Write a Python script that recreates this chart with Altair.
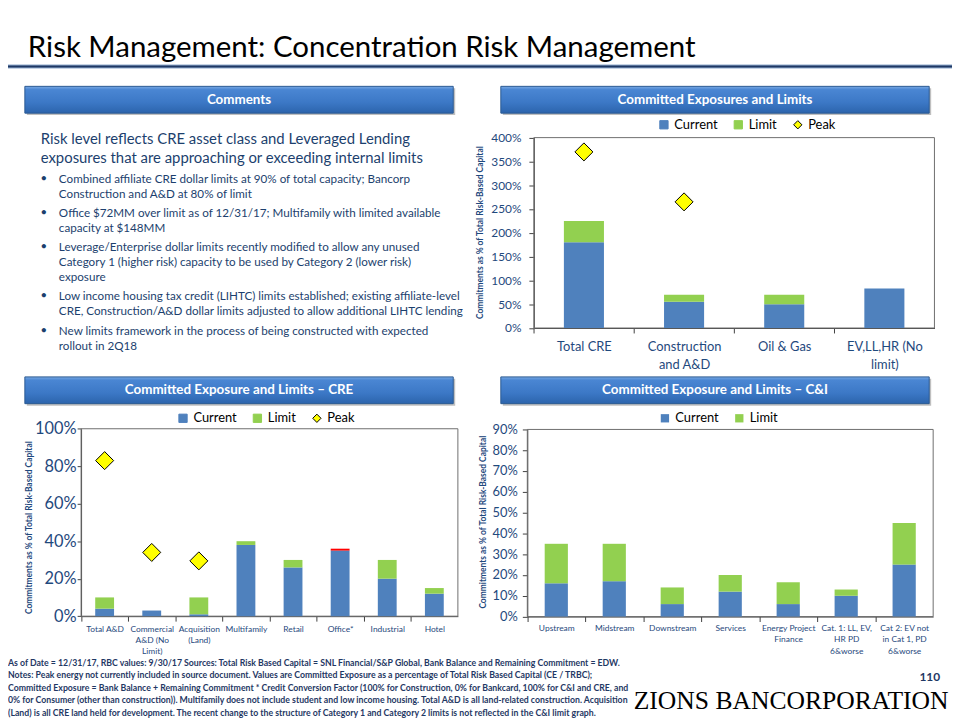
import altair as alt
import pandas as pd

# ---------------- data ----------------
title_text = "Risk Management: Concentration Risk Management"
header_texts = ["Comments", "Committed Exposures and Limits",
                "Committed Exposure and Limits \u2013 CRE", "Committed Exposure and Limits \u2013 C&I"]
heading_lines = ["Risk level reflects CRE asset class and Leveraged Lending",
                 "exposures that are approaching or exceeding internal limits"]
bullets = [
    ["Combined affiliate CRE dollar limits at 90% of total capacity; Bancorp",
     "Construction and A&D at 80% of limit"],
    ["Office $72MM over limit as of 12/31/17; Multifamily with limited available",
     "capacity at $148MM"],
    ["Leverage/Enterprise dollar limits recently modified to allow any unused",
     "Category 1 (higher risk) capacity to be used by Category 2 (lower risk)",
     "exposure"],
    ["Low income housing tax credit (LIHTC) limits established; existing affiliate-level",
     "CRE, Construction/A&D dollar limits adjusted to allow additional LIHTC lending"],
    ["New limits framework in the process of being constructed with expected",
     "rollout in 2Q18"],
]
footer_lines = [
    "As of Date = 12/31/17, RBC values: 9/30/17 Sources: Total Risk Based Capital = SNL Financial/S&P Global, Bank Balance and Remaining Commitment = EDW.",
    "Notes: Peak energy not currently included in source document. Values are Committed Exposure as a percentage of Total Risk Based Capital (CE / TRBC);",
    "Committed Exposure = Bank Balance + Remaining Commitment * Credit Conversion Factor (100% for Construction, 0% for Bankcard, 100% for C&I and CRE, and",
    "0% for Consumer (other than construction)). Multifamily does not include student and low income housing. Total A&D is all land-related construction. Acquisition",
    "(Land) is all CRE land held for development. The recent change to the structure of Category 1 and Category 2 limits is not reflected in the C&I limit graph.",
]
page_number = "110"
logo_text = "ZIONS BANCORPORATION"
y_title = "Commitments as % of Total Risk-Based Capital"
series = ["Current", "Limit", "Peak"]

c1_cats = ["Total CRE", "Construction|and A&D", "Oil & Gas", "EV,LL,HR (No|limit)"]
c1_current = [180, 55, 50, 83]
c1_limit = [225, 70, 70, None]
c1_peak = [370, 265, None, None]
c1_ticks = [0, 50, 100, 150, 200, 250, 300, 350, 400]

c2_cats = ["Total A&D", "Commercial|A&D (No|Limit)", "Acquisition|(Land)", "Multifamily",
           "Retail", "Office*", "Industrial", "Hotel"]
c2_current = [4, 3, 1, 38, 26, 36, 20, 12]
c2_limit = [10, None, 10, 40, 30, 35, 30, 15]
c2_peak = [83, 34, 29.5, None, None, None, None, None]
c2_ticks = [0, 20, 40, 60, 80, 100]

c3_cats = ["Upstream", "Midstream", "Downstream", "Services", "Energy Project|Finance",
           "Cat. 1: LL, EV,|HR PD|6&worse", "Cat 2: EV not|in Cat 1, PD|6&worse"]
c3_current = [16, 17, 6, 12, 6, 10, 25]
c3_limit = [35, 35, 14, 20, 16.5, 13, 45]
c3_peak = [None] * 7
c3_ticks = [0, 10, 20, 30, 40, 50, 60, 70, 80, 90]

# ---------------- style ----------------
W, H = 952, 712
OFF = 8
FONT = "Lato"
NAVY = "#1F497D"
TEXT = "#1C3F6E"
AXC = "#404040"
BLUE = "#4F81BD"
GREEN = "#92D050"
YELLOW = "#FFFF00"
RED = "#FF0000"


def texts(xs, ys, labels, **mk):
    df = pd.DataFrame({"x": [v - OFF for v in xs], "y": [v - OFF for v in ys], "t": labels})
    return alt.Chart(df).mark_text(**mk).encode(
        x=alt.X("x:Q", scale=None, axis=None),
        y=alt.Y("y:Q", scale=None, axis=None),
        text="t:N")


def rects(x0, x1, y0, y1, **mk):
    df = pd.DataFrame({"a": [v - OFF for v in x0], "b": [v - OFF for v in x1],
                       "c": [v - OFF for v in y0], "d": [v - OFF for v in y1]})
    return alt.Chart(df).mark_rect(**mk).encode(
        x=alt.X("a:Q", scale=None, axis=None), x2="b:Q",
        y=alt.Y("c:Q", scale=None, axis=None), y2="d:Q")


def hrule(x0, x1, y, **mk):
    df = pd.DataFrame({"a": [x0 - OFF], "b": [x1 - OFF], "c": [y - OFF]})
    return alt.Chart(df).mark_rule(**mk).encode(
        x=alt.X("a:Q", scale=None, axis=None), x2="b:Q",
        y=alt.Y("c:Q", scale=None, axis=None))


def legend(lx, ly):
    return alt.Legend(orient="none", legendX=lx - OFF, legendY=ly - OFF, direction="horizontal",
                      title=None, labelFont=FONT, labelFontSize=13, labelColor="#000000",
                      symbolSize=70, symbolStrokeWidth=1, labelOffset=4, columnPadding=14,
                      padding=0)


def panel(cats, cur, lim, peak, px, py, ticks, ylab, xlab, xpad, xlh, ypad, ytick,
          tcx, tcy, lx, ly, dsize):
    x0, x1 = px[0] - OFF, px[1] - OFF
    yb, yt = py[0] - OFF, py[1] - OFF
    step = (x1 - x0) / len(cats)
    has_peak = any(p is not None for p in peak)
    dom = series if has_peak else series[:2]
    cs = alt.Scale(domain=dom, range=[BLUE, GREEN, YELLOW][:len(dom)])
    xs = alt.Scale(domain=cats, range=[x0, x1], paddingInner=0.6, paddingOuter=0.3)
    ys = alt.Scale(domain=[ticks[0], ticks[-1]], range=[yb, yt], nice=False)
    leg = legend(lx, ly)
    xaxis = alt.Axis(orient="bottom", offset=yb - H, title=None, grid=False,
                     labelExpr="split(datum.label, '|')", labelAngle=0, labelFont=FONT,
                     labelFontSize=xlab, labelColor=NAVY, labelLineHeight=xlh,
                     labelPadding=xpad, labelBaseline="top", tickSize=5,
                     tickOffset=-step / 2, labelOffset=step / 2,
                     domainColor=AXC, tickColor=AXC, labelOverlap=False)
    yaxis = alt.Axis(orient="left", offset=-x0, title=y_title, grid=False, values=ticks,
                     labelExpr="datum.value + '%'", labelFont=FONT, labelFontSize=ylab,
                     labelColor=NAVY, labelPadding=ypad, tickSize=ytick,
                     domainColor=AXC, tickColor=AXC,
                     titleFont=FONT, titleFontSize=8.5, titleFontWeight="bold", titleColor=NAVY,
                     titleAngle=270, titleX=(tcx - OFF) - x0, titleY=tcy - OFF,
                     titleAlign="center", titleBaseline="middle")
    rows, over = [], []
    for c, cv, lv in zip(cats, cur, lim):
        top = cv if lv is None else min(cv, lv)
        rows.append({"cat": c, "series": "Current", "lo": 0, "hi": top})
        if lv is not None and lv > cv:
            rows.append({"cat": c, "series": "Limit", "lo": cv, "hi": lv})
        if lv is not None and cv > lv:
            over.append({"cat": c, "lo": lv, "hi": cv})
    frame = alt.Chart(pd.DataFrame({"k": [0]})).mark_rect(
        fillOpacity=0, stroke="#6E6E6E", strokeWidth=1).encode(
        x=alt.value(x0), x2=alt.value(x1), y=alt.value(yt), y2=alt.value(yb))
    bars = alt.Chart(pd.DataFrame(rows)).mark_bar().encode(
        x=alt.X("cat:N", scale=xs, axis=xaxis),
        y=alt.Y("lo:Q", scale=ys, axis=yaxis),
        y2="hi:Q",
        color=alt.Color("series:N", scale=cs, legend=leg))
    layers = [frame, bars]
    if over:
        layers.append(alt.Chart(pd.DataFrame(over)).mark_bar(color=RED).encode(
            x=alt.X("cat:N", scale=xs, axis=xaxis),
            y=alt.Y("lo:Q", scale=ys, axis=yaxis), y2="hi:Q"))
    if has_peak:
        pk = [{"cat": c, "series": "Peak", "v": p} for c, p in zip(cats, peak) if p is not None]
        layers.append(alt.Chart(pd.DataFrame(pk)).mark_point(
            filled=True, opacity=1, size=dsize, strokeWidth=1).encode(
            x=alt.X("cat:N", scale=xs, axis=xaxis),
            y=alt.Y("v:Q", scale=ys, axis=yaxis),
            color=alt.Color("series:N", scale=cs, legend=leg),
            shape=alt.Shape("series:N", scale=alt.Scale(domain=dom, range=["square", "square", "diamond"]), legend=leg),
            stroke=alt.Stroke("series:N", scale=alt.Scale(domain=dom, range=[BLUE, GREEN, "#000000"]), legend=leg)))
    return alt.layer(*layers)


# ---------------- background / text ----------------
grad = alt.LinearGradient(gradient="linear", x1=0, x2=0, y1=0, y2=1, stops=[
    alt.GradientStop(color="#7AAAE3", offset=0),
    alt.GradientStop(color="#4A86D3", offset=0.12),
    alt.GradientStop(color="#3C78C6", offset=0.6),
    alt.GradientStop(color="#2C64AC", offset=1)])

hx0 = [25, 505, 25, 505]
hx1 = [457, 937, 457, 937]
hy0 = [84, 84, 377, 377]
hy1 = [111, 111, 404, 404]

layers = [
    texts([28], [54], [title_text], align="left", baseline="alphabetic", font=FONT,
          fontSize=29.7, color="#000000"),
    hrule(0, 960, 64, color="#8FAACC", strokeWidth=4),
    hrule(0, 960, 64, color="#1F3864", strokeWidth=2),
    rects([v + 2 for v in hx0], [v + 2 for v in hx1], [v + 2 for v in hy0], [v + 2 for v in hy1],
          color="#BFBFBF"),
    rects(hx0, hx1, hy0, hy1, fill=grad, stroke="#2C5A92", strokeWidth=1),
    texts([(a + b) / 2 for a, b in zip(hx0, hx1)], [(a + b) / 2 for a, b in zip(hy0, hy1)],
          header_texts, align="center", baseline="middle", font=FONT, fontSize=13.5,
          fontWeight="bold", color="#FFFFFF"),
    texts([41] * len(heading_lines), [136.7 + 19.3 * i for i in range(len(heading_lines))],
          heading_lines, align="left", baseline="middle", font=FONT, fontSize=15, color=TEXT),
]

bx, by, bt, bb = [], [], [], []
li = 0
for p, para in enumerate(bullets):
    for j, line in enumerate(para):
        yv = 177.3 + 15.1 * li + 4.3 * p
        bx.append(59.3)
        by.append(yv)
        bt.append(line)
        if j == 0:
            bb.append(yv)
        li += 1
layers.append(texts([44] * len(bb), bb, ["\u2022"] * len(bb), align="center", baseline="middle",
                    font=FONT, fontSize=11.5, color=TEXT))
layers.append(texts(bx, by, bt, align="left", baseline="middle", font=FONT, fontSize=11.75, color=TEXT))

layers.append(texts([8] * len(footer_lines), [665.5 + 12.6 * i for i in range(len(footer_lines))],
                    footer_lines, align="left", baseline="middle", font=FONT, fontSize=8.8,
                    fontWeight="bold", color="#1F3864"))
layers.append(texts([948], [680], [page_number], align="right", baseline="middle", font=FONT,
                    fontSize=12, fontWeight="bold", color="#1F3864"))
layers.append(texts([639], [711.7], [logo_text], align="left", baseline="alphabetic",
                    font="Liberation Serif", fontSize=25.8, color="#000000"))

# ---------------- charts ----------------
p1 = panel(c1_cats, c1_current, c1_limit, c1_peak, (538.3, 942.3), (327.7, 135.7), c1_ticks,
           12, 13, 7.5, 18.3, 8, 5, 484, 231, 663, 116, 330)
p2 = panel(c2_cats, c2_current, c2_limit, c2_peak, (81.7, 461.7), (618.3, 429.3), c2_ticks,
           16.5, 8.5, 3, 11.5, 1, 4, 28.3, 528.5, 178, 412, 330)
p3 = panel(c3_cats, c3_current, c3_limit, c3_peak, (531.7, 941), (618.7, 430), c3_ticks,
           13, 8.5, 2, 11.5, 5, 5, 486.7, 523, 664, 412, 330)

chart = alt.layer(*layers, p1, p2, p3).resolve_scale(
    x="independent", y="independent", color="independent", shape="independent",
    stroke="independent"
).properties(
    width=W, height=H, padding=0, autosize=alt.AutoSizeParams(type="none"), background="white"
).configure_view(strokeOpacity=0)

chart.save("out.html", embed_options={"renderer": "svg", "actions": False})
